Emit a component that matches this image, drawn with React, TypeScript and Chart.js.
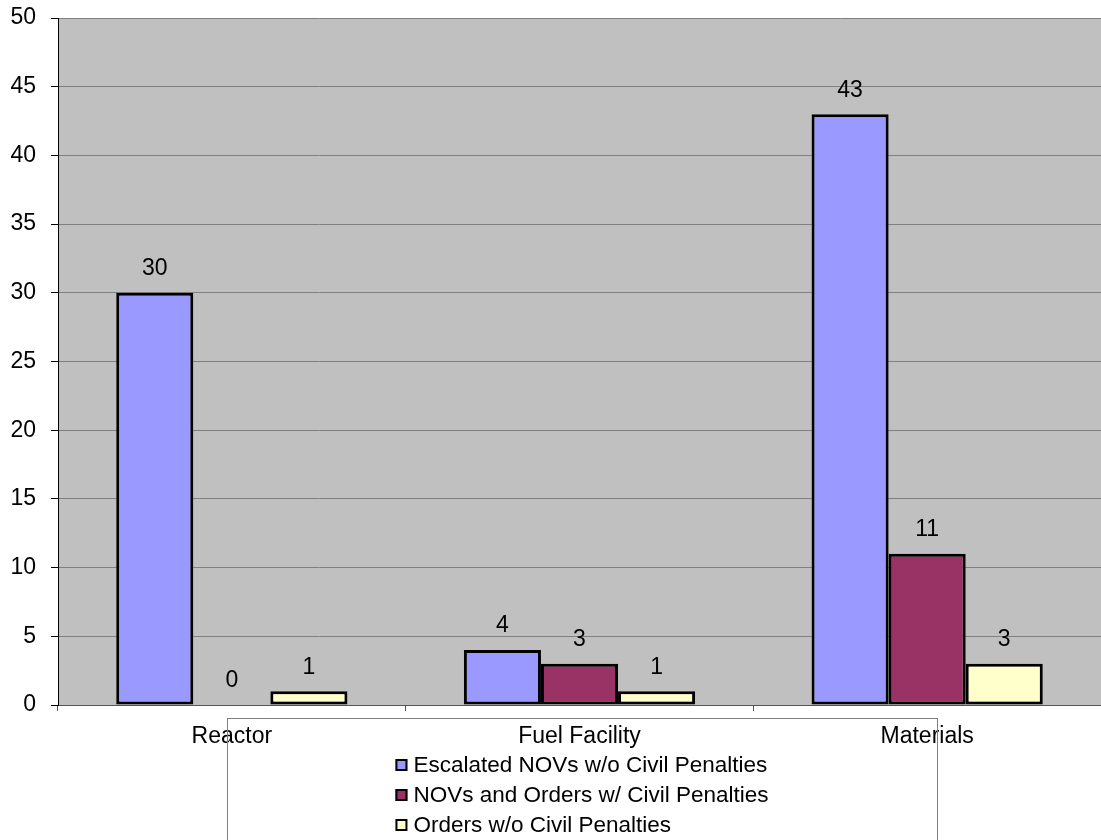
import React, { useEffect, useRef } from "react";
import { Chart, registerables } from "chart.js";

Chart.register(...registerables);

// Enforcement actions by program area
const categories = ["Reactor", "Fuel Facility", "Materials"];
const seriesLabels = [
  "Escalated NOVs w/o Civil Penalties",
  "NOVs and Orders w/ Civil Penalties",
  "Orders w/o Civil Penalties",
];
const escalatedNovs = [30, 4, 43];
const novsOrdersWithPenalties = [0, 3, 11];
const ordersWithoutPenalties = [1, 1, 3];
const seriesColors = ["#9999FF", "#993366", "#FFFFCC"];

const yMin = 0;
const yMax = 50;
const yStep = 5;

const FONT = "'Liberation Sans', Arial, sans-serif";

// Gray plot background
const plotBackground = {
  id: "plotBackground",
  beforeDraw(chart: any) {
    const { ctx, chartArea } = chart;
    ctx.save();
    ctx.fillStyle = "#C0C0C0";
    ctx.fillRect(chartArea.left, chartArea.top, chartArea.right - chartArea.left, chartArea.bottom - chartArea.top);
    ctx.restore();
  },
};

// Value labels above each bar
const valueLabels = {
  id: "valueLabels",
  afterDatasetsDraw(chart: any) {
    const { ctx } = chart;
    ctx.save();
    ctx.font = `23px ${FONT}`;
    ctx.fillStyle = "#000";
    ctx.textAlign = "center";
    ctx.textBaseline = "middle";
    chart.data.datasets.forEach((ds: any, i: number) => {
      const meta = chart.getDatasetMeta(i);
      meta.data.forEach((bar: any, j: number) => {
        ctx.fillText(String(ds.data[j]), bar.x, bar.y - 24);
      });
    });
    ctx.restore();
  },
};

// Boxed legend below the category labels
const boxedLegend = {
  id: "boxedLegend",
  afterDraw(chart: any) {
    const { ctx, chartArea } = chart;
    const boxLeft = 227;
    const boxRight = 937;
    const boxTop = chartArea.bottom + 13;
    const rowGap = 30;
    const swatch = 12;
    ctx.save();
    ctx.strokeStyle = "#808080";
    ctx.lineWidth = 1;
    ctx.strokeRect(boxLeft + 0.5, boxTop + 0.5, boxRight - boxLeft, 200);
    ctx.font = `22.5px ${FONT}`;
    ctx.textBaseline = "middle";
    ctx.textAlign = "left";
    const labels = chart.data.datasets.map((d: any) => d.label);
    const maxW = Math.max(...labels.map((l: string) => ctx.measureText(l).width));
    const total = swatch + 6 + maxW;
    const startX = (boxLeft + boxRight) / 2 - total / 2;
    chart.data.datasets.forEach((ds: any, i: number) => {
      const cy = boxTop + 47 + i * rowGap;
      ctx.fillStyle = ds.backgroundColor;
      ctx.fillRect(startX, cy - swatch / 2, swatch, swatch);
      ctx.strokeStyle = "#000";
      ctx.lineWidth = 2;
      ctx.strokeRect(startX + 1, cy - swatch / 2 + 1, swatch - 2, swatch - 2);
      ctx.fillStyle = "#000";
      ctx.fillText(ds.label, startX + swatch + 6, cy + 1);
    });
    ctx.restore();
  },
};

export default function App() {
  const canvasRef = useRef<HTMLCanvasElement | null>(null);

  useEffect(() => {
    if (!canvasRef.current) return;
    const seriesValues = [escalatedNovs, novsOrdersWithPenalties, ordersWithoutPenalties];
    const chart = new Chart(canvasRef.current, {
      type: "bar",
      data: {
        labels: categories,
        datasets: seriesValues.map((values, i) => ({
          label: seriesLabels[i],
          data: values,
          backgroundColor: seriesColors[i],
          borderColor: "#000",
          borderWidth: 3,
          borderSkipped: false,
          categoryPercentage: 0.665,
          barPercentage: 1,
        })),
      },
      options: {
        responsive: true,
        maintainAspectRatio: false,
        animation: false,
        layout: { padding: { top: 18, right: 0, left: 0, bottom: 0 } },
        plugins: {
          legend: { display: false },
          tooltip: { enabled: false },
        },
        scales: {
          x: {
            grid: {
              display: true,
              drawOnChartArea: false,
              drawTicks: true,
              tickLength: 6,
              color: "#555",
              offset: true,
            },
            border: { color: "#555", width: 1 },
            ticks: {
              color: "#000",
              font: { family: FONT, size: 23 },
              padding: 12,
            },
            afterFit(scale: any) {
              scale.height = 135;
            },
          },
          y: {
            min: yMin,
            max: yMax,
            ticks: {
              stepSize: yStep,
              color: "#000",
              font: { family: FONT, size: 23 },
              padding: 15,
            },
            grid: {
              color: "#808080",
              lineWidth: 1,
              tickLength: 7,
              tickColor: "#000",
            },
            border: { color: "#000", width: 1 },
            afterFit(scale: any) {
              scale.width = 58;
              scale.paddingTop = 0;
              scale.paddingBottom = 0;
            },
          },
        },
      },
      plugins: [plotBackground, valueLabels, boxedLegend],
    });
    return () => chart.destroy();
  }, []);

  return (
    <div style={{ position: "fixed", left: 0, top: 0, width: 1101, height: 840, background: "#fff" }}>
      <canvas ref={canvasRef} />
    </div>
  );
}
